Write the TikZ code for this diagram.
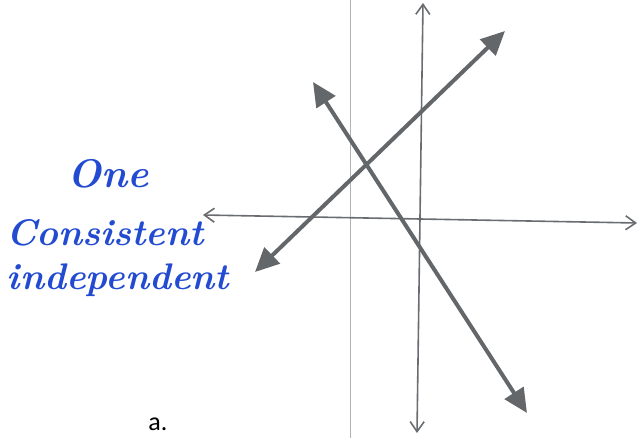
\documentclass[tikz,border=0pt]{standalone}
\usepackage{fontspec}
\newfontfamily\labelfont{Carlito}
\usetikzlibrary{arrows.meta}
\definecolor{inkblue}{RGB}{35,75,210}
\definecolor{pencil}{RGB}{105,108,112}

\begin{document}
\begin{tikzpicture}[
  x=0.5pt, y=-0.5pt,
  axis/.style={{Straight Barb[length=5pt,width=7pt]}-{Straight Barb[length=5pt,width=7pt]}, line width=0.8pt, draw=pencil},
  eqline/.style={{Triangle[length=12pt,width=11pt]}-{Triangle[length=12pt,width=11pt]}, line width=2pt, draw=pencil!95!black},
  grid/.style={draw=gray!60, line width=0.5pt},
  hand/.style={font=\fontsize{18.5}{22}\selectfont\bfseries\itshape, text=inkblue},
  lbl/.style={font=\labelfont\fontsize{13}{15}\selectfont, text=black}
]
\useasboundingbox (0,0) rectangle (639,438);

% grid line
\coordinate (gtop) at (350,0);
\coordinate (gbot) at (350,438);
\draw[grid] (gtop) -- (gbot);

% axes
\coordinate (xl) at (203,215);
\coordinate (xr) at (637,223);
\coordinate (yt) at (423,3);
\coordinate (yb) at (417,433);
\draw[axis] (xl) -- (xr);
\draw[axis] (yt) -- (yb);

% the two lines
\coordinate (pa) at (255,272);
\coordinate (pb) at (505,31);
\coordinate (qa) at (313,82);
\coordinate (qb) at (527,413);
\draw[eqline] (pa) -- (pb);
\draw[eqline] (qa) -- (qb);

% answer
\node[hand, font=\fontsize{20}{24}\selectfont\bfseries\itshape] (one) at (108,174) {One};
\node[hand] (cons) at (105,233) {Consistent};
\node[hand] (indep) at (118,280) {independent};

\node[lbl] (part) at (158,424) {a.};

\end{tikzpicture}
\end{document}
